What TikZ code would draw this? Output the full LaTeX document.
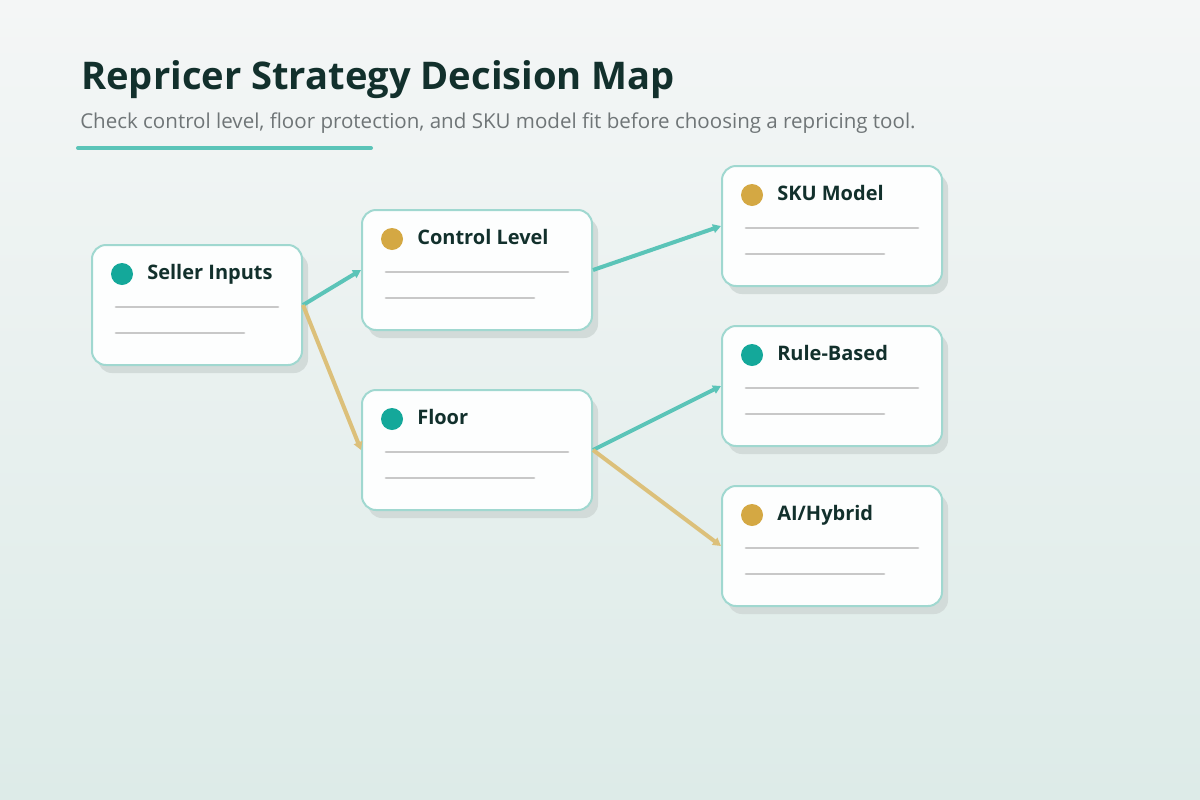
\documentclass[tikz,border=0pt]{standalone}
\usepackage{fontspec}
\setmainfont{Open Sans}
\usetikzlibrary{arrows.meta,shadows}
\definecolor{bgtop}{HTML}{F4F6F6}
\definecolor{bgbot}{HTML}{DDEBE8}
\definecolor{titlec}{HTML}{12302C}
\definecolor{subc}{HTML}{6F7577}
\definecolor{tealc}{HTML}{5BC4B8}
\definecolor{goldc}{HTML}{DCC07A}
\definecolor{dotteal}{HTML}{14A89A}
\definecolor{dotgold}{HTML}{D4A843}
\definecolor{cardborder}{HTML}{A0D8D0}
\definecolor{cardfill}{HTML}{FDFEFE}
\definecolor{shadowc}{HTML}{D2DBD9}
\definecolor{linec}{HTML}{C8C8C8}
\tikzset{
  card/.style={draw=cardborder, line width=1.5pt, fill=cardfill, rounded corners=10.5pt,
    minimum height=90pt, inner sep=0pt,
    drop shadow={shadow xshift=4.5pt, shadow yshift=-6pt, fill=shadowc, opacity=1}},
  cardtitle/.style={anchor=base west, inner sep=0pt, font=\fontsize{15}{18}\selectfont\bfseries, text=titlec},
  placeholder/.style={draw=linec, line width=2.2pt, line cap=round},
  tealarrow/.style={draw=tealc, line width=3pt, -{Triangle[length=6pt,width=6.5pt]}},
  goldarrow/.style={draw=goldc, line width=3pt, -{Triangle[length=6pt,width=6.5pt]}},
}
\newcommand\mycard[6]{%
  \node[card, minimum width=#4*0.75pt] (#1) at (#2,#3) {};
  \begin{scope}[shift={(#1.north west)}]
    \fill[#5] (31,30) circle[radius=11];
    \node[cardtitle] (#1-t) at (56,35) {#6};
    \draw[placeholder] (25,63) -- (#4-23,63);
    \draw[placeholder] (25,89) -- (#4-57,89);
  \end{scope}
}
\begin{document}
\begin{tikzpicture}[x=0.75pt,y=-0.75pt]
\shade[top color=bgtop, bottom color=bgbot] (0,0) rectangle (1200,800);
\useasboundingbox (0,0) rectangle (1200,800);
\node[anchor=base west, inner sep=0pt, font=\fontsize{28.6}{32}\selectfont\bfseries, text=titlec] (title) at (81,89) {Repricer Strategy Decision Map};
\node[anchor=base west, inner sep=0pt, font=\fontsize{15.4}{18}\selectfont, text=subc] (subtitle) at (80,128) {Check control level, floor protection, and SKU model fit before choosing a repricing tool.};
\coordinate (ul1) at (78,148);
\coordinate (ul2) at (371,148);
\draw[tealc, line width=3pt, line cap=round] (ul1) -- (ul2);
\mycard{seller}{197}{305}{210}{dotteal}{Seller Inputs}
\mycard{control}{477}{270}{230}{dotgold}{Control Level}
\mycard{floor}{477}{450}{230}{dotteal}{Floor}
\mycard{sku}{832}{226}{220}{dotgold}{SKU Model}
\mycard{rule}{832}{386}{220}{dotteal}{Rule-Based}
\mycard{ai}{832}{546}{220}{dotgold}{AI/Hybrid}
\draw[tealarrow] (seller.east) -- (control.west);
\draw[goldarrow] (seller.east) -- (floor.west);
\draw[tealarrow] (control.east) -- (sku.west);
\draw[tealarrow] (floor.east) -- (rule.west);
\draw[goldarrow] (floor.east) -- (ai.west);
\end{tikzpicture}
\end{document}
